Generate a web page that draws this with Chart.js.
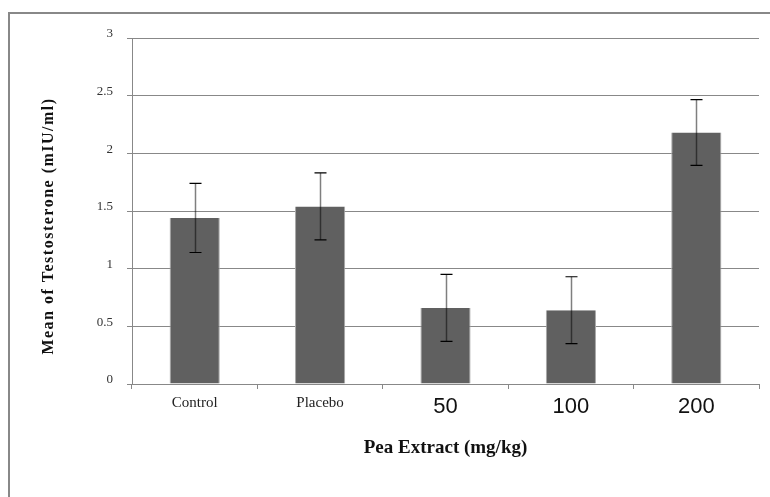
<!DOCTYPE html>
<html>
<head>
<meta charset="utf-8">
<script src="https://cdn.jsdelivr.net/npm/chart.js@4.4.1/dist/chart.umd.min.js"></script>
<style>
  html, body { margin: 0; padding: 0; background: #fff; }
  #wrap { width: 770px; height: 497px; position: relative; }
</style>
</head>
<body>
<div id="wrap"><canvas id="c" width="770" height="497"></canvas></div>
<script>
const categories = ['Control', 'Placebo', '50', '100', '200'];
const means = [1.44, 1.54, 0.66, 0.64, 2.18];
const errors = [0.30, 0.29, 0.29, 0.29, 0.285];
const yTicks = [0, 0.5, 1, 1.5, 2, 2.5, 3];
const yTitle = 'Mean of Testosterone (mIU/ml)';
const xTitle = 'Pea Extract (mg/kg)';

const frame = {
  id: 'frame',
  beforeDraw(chart) {
    const ctx = chart.ctx;
    ctx.save();
    ctx.fillStyle = '#fff';
    ctx.fillRect(0, 0, chart.width, chart.height);
    ctx.strokeStyle = '#888';
    ctx.lineWidth = 2;
    ctx.beginPath();
    ctx.moveTo(9, chart.height);
    ctx.lineTo(9, 13);
    ctx.lineTo(chart.width, 13);
    ctx.stroke();
    ctx.restore();
  },
  afterDraw(chart) {
    const ctx = chart.ctx;
    const a = chart.chartArea;
    ctx.save();
    ctx.fillStyle = '#111';
    ctx.font = 'bold 16px "Liberation Serif"';
    if ('letterSpacing' in ctx) ctx.letterSpacing = '1.5px';
    ctx.textAlign = 'center';
    ctx.textBaseline = 'middle';
    ctx.translate(49, (a.top + a.bottom) / 2 + 15);
    ctx.rotate(-Math.PI / 2);
    ctx.fillText(yTitle, 0, 0);
    ctx.restore();
  }
};

const errorBars = {
  id: 'errorBars',
  afterDatasetsDraw(chart) {
    const ctx = chart.ctx;
    const meta = chart.getDatasetMeta(0);
    const y = chart.scales.y;
    ctx.save();
    meta.data.forEach((bar, i) => {
      const x = Math.round(bar.x) + 0.5;
      const top = y.getPixelForValue(means[i] + errors[i]);
      const bot = y.getPixelForValue(means[i] - errors[i]);
      ctx.strokeStyle = 'rgba(0,0,0,0.5)';
      ctx.lineWidth = 1.5;
      ctx.beginPath();
      ctx.moveTo(x, top);
      ctx.lineTo(x, bot);
      ctx.stroke();
      ctx.strokeStyle = '#000';
      ctx.lineWidth = 1.2;
      ctx.beginPath();
      ctx.moveTo(x - 6, top); ctx.lineTo(x + 6, top);
      ctx.moveTo(x - 6, bot); ctx.lineTo(x + 6, bot);
      ctx.stroke();
    });
    ctx.restore();
  }
};

new Chart(document.getElementById('c'), {
  type: 'bar',
  data: {
    labels: categories,
    datasets: [{
      data: means,
      backgroundColor: '#606060',
      borderColor: '#a8a8a8',
      borderWidth: { left: 1, right: 1, top: 0, bottom: 0 },
      borderSkipped: false,
      barPercentage: 0.4,
      categoryPercentage: 1.0
    }]
  },
  options: {
    responsive: false,
    animation: false,
    layout: { padding: { left: 0, top: 38, right: 11, bottom: 0 } },
    plugins: { legend: { display: false }, tooltip: { enabled: false } },
    scales: {
      x: {
        afterFit(s) { s.height = 113; },
        grid: { offset: true, drawOnChartArea: false, drawTicks: true, tickLength: 5, color: '#888' },
        border: { color: '#888', width: 1 },
        ticks: {
          padding: 5,
          color: (c) => c.index < 2 ? '#222' : '#111',
          font: (c) => c.index < 2
            ? { family: 'Liberation Serif', size: 15 }
            : { family: 'Liberation Sans', size: 22 }
        },
        title: {
          display: true,
          text: xTitle,
          color: '#111',
          font: { family: 'Liberation Serif', size: 19, weight: 'bold' },
          padding: { top: 0, bottom: 38 }
        }
      },
      y: {
        min: 0, max: 3,
        afterFit(s) { s.width = 132; },
        afterBuildTicks(s) { s.ticks = yTicks.map(v => ({ value: v })); },
        grid: { color: '#888', tickLength: 5, lineWidth: 1 },
        border: { color: '#888', width: 1 },
        ticks: {
          padding: 14,
          labelOffset: -4,
          color: '#333',
          font: { family: 'Liberation Serif', size: 13 },
          callback: (v) => String(v)
        },
        title: { display: false }
      }
    }
  },
  plugins: [frame, errorBars]
});
</script>
</body>
</html>
